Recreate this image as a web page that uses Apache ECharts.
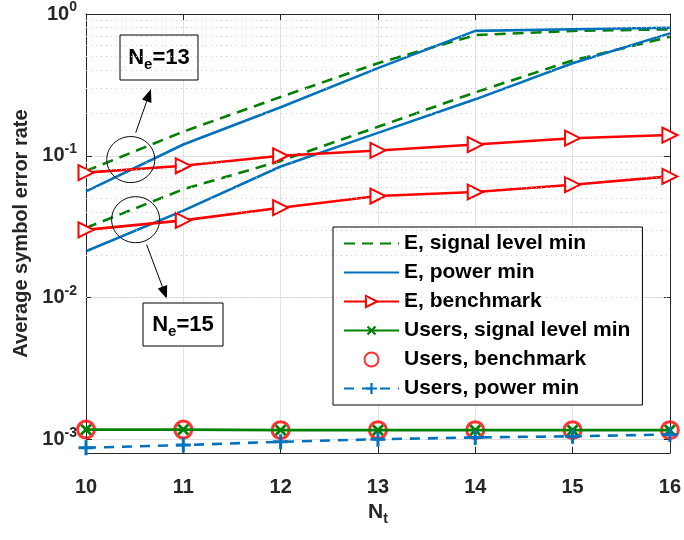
<!DOCTYPE html>
<html>
<head>
<meta charset="utf-8">
<script src="https://cdn.jsdelivr.net/npm/echarts@6/dist/echarts.min.js"></script>
<style>
  html, body { margin: 0; padding: 0; background: #fff; }
  #main { width: 684px; height: 540px; }
</style>
</head>
<body>
<div id="main"></div>
<script>
// N_t on the x axis
const nt = [10, 11, 12, 13, 14, 15, 16];

// N_e = 13 (upper group)
const eSigMin13 = [0.078, 0.148, 0.26, 0.45, 0.71, 0.76, 0.78];
const ePowMin13 = [0.056, 0.12, 0.22, 0.415, 0.76, 0.78, 0.80];
const eBench13 = [0.076, 0.085, 0.100, 0.109, 0.120, 0.133, 0.140];

// N_e = 15 (lower group)
const eSigMin15 = [0.031, 0.058, 0.092, 0.16, 0.28, 0.47, 0.69];
const ePowMin15 = [0.0212, 0.041, 0.084, 0.145, 0.25, 0.45, 0.73];
const eBench15 = [0.030, 0.035, 0.043, 0.052, 0.0555, 0.0625, 0.0715];

// users
const usersSigMin = [0.00117, 0.00117, 0.00116, 0.00116, 0.00116, 0.00116, 0.00116];
const usersBench = [0.00117, 0.00117, 0.00116, 0.00116, 0.00116, 0.00116, 0.00116];
const usersPowMin = [0.00087, 0.00091, 0.00096, 0.00100, 0.00103, 0.00105, 0.00108];

const legendNames = ['E, signal level min', 'E, power min', 'E, benchmark',
  'Users, signal level min', 'Users, benchmark', 'Users, power min'];

const GREEN = '#008000', BLUE = '#0072BD', RED = '#FF0000';
const FONT = 'Liberation Sans, Arial, sans-serif';
const INK = '#262626';

// dotted minor grid lines of the log axis (2..9 x 10^k)
const minorGrid = [];
[-4, -3, -2, -1].forEach(function (k) {
  for (let m = 2; m <= 9; m++) {
    const v = m * Math.pow(10, k);
    if (v >= 0.0008 && v < 1) minorGrid.push({ yAxis: v });
  }
});

function pairs(ys) { return nt.map((x, i) => [x, ys[i]]); }

const plusPath = 'path://M4,0 H6 V4 H10 V6 H6 V10 H4 V6 H0 V4 H4 Z';

function eLine(name, data, color, dashed) {
  return {
    name: name, type: 'line', data: pairs(data), symbol: 'none',
    lineStyle: { color: color, width: 2.6, type: dashed ? [11, 7] : 'solid' },
    itemStyle: { color: color }
  };
}
function benchLine(data) {
  return {
    name: 'E, benchmark', type: 'line', data: pairs(data),
    symbol: 'emptyTriangle', symbolRotate: -90, symbolSize: 15,
    lineStyle: { color: RED, width: 2.6 },
    itemStyle: { color: RED, borderWidth: 2.5 }
  };
}

// plain lines get no marker in the legend
const legendData = legendNames.map(function (n, i) {
  return i < 2 ? { name: n, itemStyle: { opacity: 0 } } : { name: n };
});

const chart = echarts.init(document.getElementById('main'));
chart.setOption({
  animation: false,
  textStyle: { fontFamily: FONT },
  grid: { left: 86, right: 12, top: 14, bottom: 87 },
  legend: {
    data: legendData,
    orient: 'vertical', left: 333, top: 227,
    padding: [6, 12, 6, 10],
    itemWidth: 55, itemHeight: 14, itemGap: 8,
    backgroundColor: '#fff', borderColor: '#000', borderWidth: 1,
    textStyle: { fontSize: 21, lineHeight: 21, fontWeight: 'bold', color: '#000', fontFamily: FONT }
  },
  xAxis: [{
    type: 'value', min: 10, max: 16, interval: 1,
    name: '{a|N}{b|t}', nameLocation: 'middle', nameGap: 46,
    nameTextStyle: { rich: {
      a: { fontSize: 21, fontWeight: 'bold', color: INK, fontFamily: FONT },
      b: { fontSize: 14, fontWeight: 'bold', color: INK, fontFamily: FONT, padding: [13, 0, 0, 0] }
    } },
    axisLine: { lineStyle: { color: INK, width: 1 } },
    axisTick: { inside: true, length: 6, lineStyle: { color: INK } },
    axisLabel: { margin: 24, fontSize: 20, fontWeight: 'bold', color: INK },
    splitLine: { show: true, lineStyle: { color: '#e3e3e3', width: 1 } }
  }, {
    type: 'value', min: 10, max: 16, interval: 1, position: 'top',
    axisLine: { lineStyle: { color: INK, width: 1 } },
    axisTick: { inside: true, length: 6, lineStyle: { color: INK } },
    axisLabel: { show: false }, splitLine: { show: false }
  }],
  yAxis: [{
    type: 'log', logBase: 10, min: 0.0008, max: 1,
    name: 'Average symbol error rate', nameLocation: 'middle', nameGap: 50,
    nameTextStyle: { fontSize: 20, fontWeight: 'bold', color: INK },
    axisLine: { show: true, lineStyle: { color: INK, width: 1 } },
    axisTick: { inside: true, length: 6, lineStyle: { color: INK } },
    axisLabel: {
      margin: 9, color: INK,
      formatter: function (v) {
        const l = Math.log10(v), e = Math.round(l);
        if (Math.abs(l - e) > 1e-6) return '';
        return '{b|10}{s|' + e + '}';
      },
      rich: {
        b: { fontSize: 20, fontWeight: 'bold', color: INK, fontFamily: FONT },
        s: { fontSize: 14, fontWeight: 'bold', color: INK, fontFamily: FONT, padding: [0, 0, 13, 0] }
      }
    },
    splitLine: { show: true, lineStyle: { color: '#e0e0e0', width: 1 } }
  }, {
    type: 'log', logBase: 10, min: 0.0008, max: 1, position: 'right',
    axisLine: { show: true, lineStyle: { color: INK, width: 1 } },
    axisTick: { inside: true, length: 6, lineStyle: { color: INK } },
    axisLabel: { show: false }, splitLine: { show: false }
  }],
  series: [
    Object.assign(eLine('E, signal level min', eSigMin13, GREEN, true), {
      markLine: {
        silent: true, symbol: 'none', label: { show: false },
        lineStyle: { color: '#cfcfcf', type: [1, 4], width: 1 },
        data: minorGrid
      }
    }),
    eLine('E, signal level min', eSigMin15, GREEN, true),
    eLine('E, power min', ePowMin13, BLUE, false),
    eLine('E, power min', ePowMin15, BLUE, false),
    benchLine(eBench13),
    benchLine(eBench15),
    {
      name: 'Users, signal level min', type: 'line', data: pairs(usersSigMin),
      symbol: plusPath, symbolRotate: 45, symbolSize: 14,
      lineStyle: { color: GREEN, width: 2.6 }, itemStyle: { color: GREEN }
    },
    {
      name: 'Users, benchmark', type: 'scatter', data: pairs(usersBench),
      symbol: 'circle', symbolSize: 17,
      itemStyle: { color: 'rgba(0,0,0,0)', borderColor: RED, borderWidth: 3 }
    },
    {
      name: 'Users, power min', type: 'line', data: pairs(usersPowMin),
      symbol: plusPath, symbolSize: 15,
      lineStyle: { color: BLUE, width: 2.6, type: [10, 8] }, itemStyle: { color: BLUE }
    }
  ]
});

// annotations: circles, arrows and labelled boxes
function arrow(x1, y1, x2, y2) {
  const a = Math.atan2(y2 - y1, x2 - x1), L = 13, W = 5;
  const bx = x2 - L * Math.cos(a), by = y2 - L * Math.sin(a);
  return [
    { type: 'line', shape: { x1: x1, y1: y1, x2: bx, y2: by }, style: { stroke: '#000', lineWidth: 1 } },
    { type: 'polygon', shape: { points: [[x2, y2],
      [bx + W * Math.sin(a), by - W * Math.cos(a)],
      [bx - W * Math.sin(a), by + W * Math.cos(a)]] }, style: { fill: '#000' } }
  ];
}
function box(x, y, w, h, num) {
  return [
    { type: 'rect', shape: { x: x, y: y, width: w, height: h }, style: { fill: '#fff', stroke: '#000', lineWidth: 1 } },
    { type: 'text', x: x + w / 2, y: y + h / 2, style: {
      text: '{n|N}{e|e}{n|=' + num + '}', align: 'center', verticalAlign: 'middle',
      rich: {
        n: { fontSize: 22, fontWeight: 'bold', fill: '#000', fontFamily: FONT },
        e: { fontSize: 15, fontWeight: 'bold', fill: '#000', fontFamily: FONT, padding: [15, 0, 0, 0] }
      }
    } }
  ];
}
const up = chart.convertToPixel({ gridIndex: 0 }, [10.46, 0.094]);
const lo = chart.convertToPixel({ gridIndex: 0 }, [10.51, 0.0354]);
const circleStyle = { fill: 'none', stroke: '#000', lineWidth: 1 };
chart.setOption({
  graphic: [
    { type: 'ellipse', shape: { cx: up[0], cy: up[1], rx: 24, ry: 23 }, style: circleStyle, z: 100 },
    { type: 'ellipse', shape: { cx: lo[0], cy: lo[1], rx: 24, ry: 23 }, style: circleStyle, z: 100 }
  ].concat(arrow(up[0] + 5, up[1] - 27, 151, 89), arrow(lo[0] + 11, lo[1] + 25, 167, 299),
    box(120, 35, 78, 45, 13), box(143, 303, 80, 43, 15))
});
</script>
</body>
</html>
